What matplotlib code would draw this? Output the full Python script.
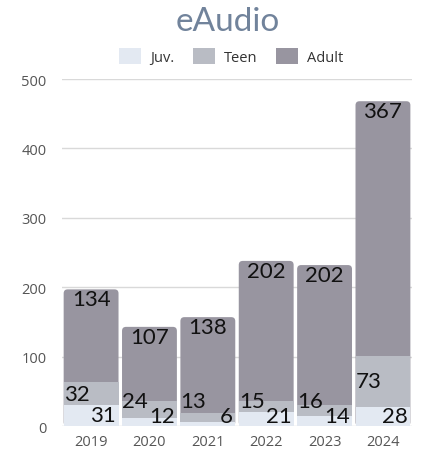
import matplotlib.pyplot as plt
from matplotlib.patches import FancyBboxPatch

years = ["2019", "2020", "2021", "2022", "2023", "2024"]
juv = [31, 12, 6, 21, 14, 28]
teen = [32, 24, 13, 15, 16, 73]
adult = [134, 107, 138, 202, 202, 367]

c_juv = "#e3e9f2"
c_teen = "#b9bcc4"
c_adult = "#9895a0"

plt.rcParams["font.family"] = ["Open Sans", "DejaVu Sans"]

fig = plt.figure(figsize=(4.24, 4.52), dpi=100)
ax = fig.add_axes([0.146, 0.055, 0.826, 0.768])

x = list(range(len(years)))
w = 0.94
totals = [j + t + a for j, t, a in zip(juv, teen, adult)]

ax.set_xlim(-0.5, 5.5)
ax.set_ylim(0, 500)

# rounded adult bar drawn full height behind, so only the top corners show
px_per_x = 350 / 6
px_per_y = 347 / 500
r = 4 / px_per_x
for xi, tot in zip(x, totals):
    p = FancyBboxPatch((xi - w / 2, 0), w, tot,
                       boxstyle=f"round,pad=0,rounding_size={r}",
                       mutation_aspect=px_per_x / px_per_y,
                       fc=c_adult, ec="none", zorder=2)
    ax.add_patch(p)

ax.bar(x, teen, w, bottom=juv, color=c_teen, zorder=3)
ax.bar(x, juv, w, color=c_juv, zorder=3)

lab = dict(fontsize=16, color="#111111", zorder=5, va="center",
           family=["Lato", "DejaVu Sans"])
for xi, j, t, a, tot in zip(x, juv, teen, adult, totals):
    ax.text(xi, tot - 14, str(a), ha="center", **lab)
    ax.text(xi - 0.25, max(j + t / 2, 36), str(t), ha="center", **lab)
    ax.text(xi + w / 2 - 0.04, max(j / 2, 15), str(j), ha="right", **lab)

ax.set_yticks([0, 100, 200, 300, 400, 500])
ax.grid(axis="y", color="#d9d9d9", linewidth=1, zorder=0)
ax.set_axisbelow(True)
for s in ax.spines.values():
    s.set_visible(False)
ax.tick_params(axis="both", length=0, labelsize=10.5, labelcolor="#555555")
ax.tick_params(axis="y", pad=11)
ax.tick_params(axis="x", pad=6)
ax.set_xticks(x)
ax.set_xticklabels(years)

fig.text(0.538, 0.952, "eAudio", ha="center", va="center", fontsize=24,
         color="#71839b", family=["Lato", "DejaVu Sans"])

handles = [plt.Rectangle((0, 0), 1, 1, fc=c) for c in (c_juv, c_teen, c_adult)]
fig.legend(handles, ["Juv.", "Teen", "Adult"], loc="center",
           bbox_to_anchor=(0.545, 0.872), ncol=3, frameon=False,
           fontsize=10.5, handlelength=1.5, handleheight=1.3,
           columnspacing=1.3, handletextpad=0.6, labelcolor="#333333")

fig.savefig("out.png", dpi=100)
